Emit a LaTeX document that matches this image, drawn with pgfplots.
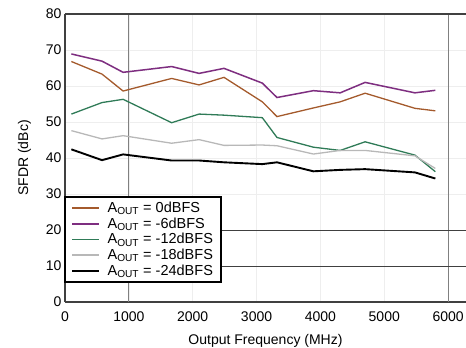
\documentclass[border=0pt]{standalone}
\usepackage{pgfplots}
\pgfplotsset{compat=1.18}
\usetikzlibrary{calc}
\usepackage{fontspec}
\setmainfont{Liberation Sans}
\definecolor{corange}{HTML}{A45A2C}
\definecolor{cpurple}{HTML}{7E2E80}
\definecolor{cgreen}{HTML}{2F7B57}
\definecolor{cgray}{HTML}{B8B8B8}
\definecolor{lgrid}{HTML}{EEEEEE}
\begin{document}
\begin{tikzpicture}
\begin{axis}[
  name=ax,
  scale only axis,
  width=401pt, height=288pt,
  xmin=0, xmax=6280, ymin=0, ymax=80,
  xtick={0,1000,...,6000}, ytick={0,10,...,80},
  /pgf/number format/assume math mode=true,
  /pgf/number format/1000 sep={},
  scaled x ticks=false,
  tick label style={font=\fontsize{14}{16}\selectfont},
  xticklabel style={yshift=-6pt},
  label style={font=\fontsize{14}{16}\selectfont},
  xlabel={Output Frequency (MHz)},
  ylabel={SFDR (dBc)},
  xlabel style={yshift=-6pt},
  ylabel style={yshift=8pt},
  major tick length=0pt,
  axis x line*=bottom, axis y line*=left,
  axis line style={-, black!75, line width=1.4pt},
  grid=major,
  major grid style={lgrid, line width=0.6pt},
  legend style={name=leg, at={(axis cs:0,29.2)}, anchor=north west, draw=none,
    font=\fontsize{14.5}{17}\selectfont, fill=white, inner xsep=6pt, inner ysep=3pt,
    row sep=-0.35pt, column sep=5pt, legend cell align=left},
  legend image code/.code={\draw[#1] (0pt,0pt) -- (27pt,0pt);},
]
% emphasized grid lines
\draw[black!50, line width=0.9pt] (axis cs:1000,0) -- (axis cs:1000,80);
\draw[black!50, line width=0.9pt] (axis cs:6000,0) -- (axis cs:6000,80);
\draw[black!75, line width=0.9pt] (axis cs:0,10) -- (axis cs:6280,10);
\draw[black!75, line width=0.9pt] (axis cs:0,20) -- (axis cs:6280,20);
\draw[black!75, line width=1.4pt] (axis cs:0,80) -- (axis cs:6280,80);

\addplot[color=corange, line width=1.3pt, legend image post style={line width=1.7pt}] coordinates {
(100,66.8) (580,63.3) (910,58.6) (1670,62.1) (2100,60.3) (2490,62.4) (3090,55.6) (3320,51.5) (3890,53.9) (4310,55.6) (4700,58.0) (5480,53.8) (5800,53.1)};
\addlegendentry{A\textsubscript{OUT} = 0dBFS}
\addplot[color=cpurple, line width=1.5pt, legend image post style={line width=1.7pt}] coordinates {
(100,68.9) (580,66.9) (910,63.8) (1670,65.4) (2100,63.5) (2490,64.9) (3090,60.8) (3320,56.8) (3890,58.7) (4310,58.1) (4700,61.0) (5480,58.1) (5800,58.8)};
\addlegendentry{A\textsubscript{OUT} = -6dBFS}
\addplot[color=cgreen, line width=1.3pt, legend image post style={line width=1.7pt}] coordinates {
(100,52.2) (580,55.4) (910,56.3) (1670,49.8) (2100,52.2) (2490,51.9) (3090,51.2) (3320,45.7) (3890,43.0) (4310,42.1) (4700,44.5) (5480,40.8) (5800,36.2)};
\addlegendentry{A\textsubscript{OUT} = -12dBFS}
\addplot[color=cgray, line width=1.3pt, legend image post style={line width=1.7pt}] coordinates {
(100,47.6) (580,45.3) (910,46.2) (1670,44.1) (2100,45.1) (2490,43.5) (3090,43.6) (3320,43.4) (3890,41.1) (4310,42.1) (4700,42.1) (5480,40.6) (5800,37.1)};
\addlegendentry{A\textsubscript{OUT} = -18dBFS}
\addplot[color=black, line width=1.9pt, legend image post style={line width=2.4pt}] coordinates {
(100,42.4) (580,39.4) (910,41.0) (1670,39.3) (2100,39.3) (2490,38.8) (3090,38.3) (3320,38.8) (3890,36.3) (4310,36.7) (4700,36.9) (5480,36.0) (5800,34.3)};
\addlegendentry{A\textsubscript{OUT} = -24dBFS}
\end{axis}
\draw[black, line width=1.6pt] (leg.north west) rectangle (leg.south east);
\pgfresetboundingbox
\path[use as bounding box] ($(ax.south west)+(-65pt,-46pt)$) rectangle ($(ax.north east)+(0pt,14pt)$);
\end{tikzpicture}
\end{document}
